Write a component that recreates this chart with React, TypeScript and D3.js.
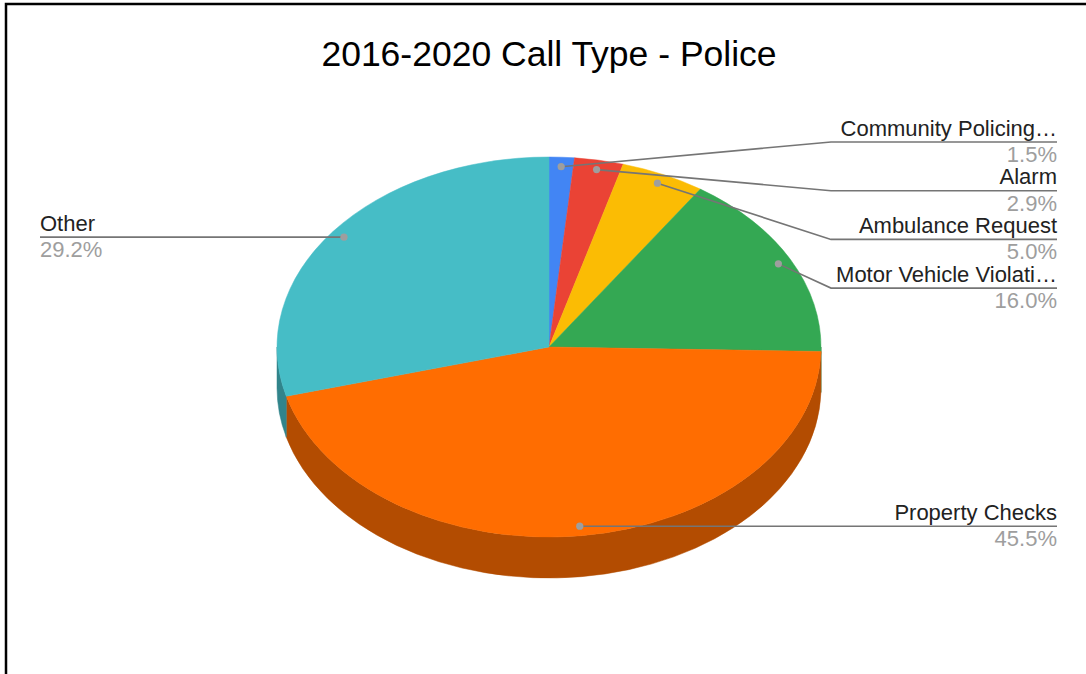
import React from "react";
import * as d3 from "d3";

const categories = [
  "Community Policing…",
  "Alarm",
  "Ambulance Request",
  "Motor Vehicle Violati…",
  "Property Checks",
  "Other",
];
const values = [1.5, 2.9, 5.0, 16.0, 45.5, 29.2];
const percentLabels = ["1.5%", "2.9%", "5.0%", "16.0%", "45.5%", "29.2%"];
const colors = ["#4285F4", "#EA4335", "#FBBC04", "#34A853", "#FF6D01", "#46BDC6"];
const title = "2016-2020 Call Type - Police";

const W = 1086;
const H = 674;
const cx = 549;
const cy = 347;
const rx = 272;
const ry = 190;
const depth = 41;
const FONT = "'Liberation Sans', Arial, sans-serif";

function pt(a: number, r = 1, dy = 0): [number, number] {
  return [cx + rx * r * Math.sin(a), cy - ry * r * Math.cos(a) + dy];
}

function darker(c: string) {
  const col = d3.rgb(c);
  return d3.rgb(col.r * 0.7, col.g * 0.7, col.b * 0.7).formatHex();
}

export default function App() {
  const pie = d3
    .pie<number>()
    .sort(null)
    .startAngle(0)
    .endAngle(2 * Math.PI)
    .padAngle(0);
  const arcs = pie(values);

  const sides: JSX.Element[] = [];
  arcs.forEach((a, i) => {
    const s0 = Math.max(a.startAngle, Math.PI / 2);
    const s1 = Math.min(a.endAngle, (3 * Math.PI) / 2);
    if (s1 <= s0) return;
    const large = s1 - s0 > Math.PI ? 1 : 0;
    const p0 = pt(s0);
    const p1 = pt(s1);
    const q1 = pt(s1, 1, depth);
    const q0 = pt(s0, 1, depth);
    const d = `M${p0[0]},${p0[1]} A${rx},${ry} 0 ${large} 1 ${p1[0]},${p1[1]} L${q1[0]},${q1[1]} A${rx},${ry} 0 ${large} 0 ${q0[0]},${q0[1]} Z`;
    sides.push(<path key={"s" + i} d={d} fill={darker(colors[i])} stroke={darker(colors[i])} strokeWidth={0.5} />);
  });

  const tops = arcs.map((a, i) => {
    const large = a.endAngle - a.startAngle > Math.PI ? 1 : 0;
    const p0 = pt(a.startAngle);
    const p1 = pt(a.endAngle);
    const d = `M${cx},${cy} L${p0[0]},${p0[1]} A${rx},${ry} 0 ${large} 1 ${p1[0]},${p1[1]} Z`;
    return <path key={"t" + i} d={d} fill={colors[i]} stroke={colors[i]} strokeWidth={0.5} />;
  });

  // labels
  const rightX = 1057;
  const leftX = 40;
  const kinkX = 831;
  const labels = arcs.map((a, i) => {
    const mid = (a.startAngle + a.endAngle) / 2;
    const dot = pt(mid, 0.95);
    const isRight = mid < Math.PI;
    let lineY = dot[1];
    if (i < 4) lineY = 142 + i * 48.7;
    const pathD = isRight
      ? i < 4
        ? `M${dot[0]},${dot[1]} L${kinkX},${lineY} L${rightX},${lineY}`
        : `M${dot[0]},${dot[1]} L${rightX},${lineY}`
      : `M${dot[0]},${dot[1]} L${leftX},${lineY}`;
    const tx = isRight ? rightX : leftX;
    const anchor = isRight ? "end" : "start";
    return (
      <g key={"l" + i}>
        <path d={pathD} fill="none" stroke="#757575" strokeWidth={1.6} />
        <circle cx={dot[0]} cy={dot[1]} r={3.6} fill="#9e9e9e" />
        <text x={tx} y={lineY - 6.5} textAnchor={anchor} fontFamily={FONT} fontSize={22} fill="#222222">
          {categories[i]}
        </text>
        <text x={tx} y={lineY + 20} textAnchor={anchor} fontFamily={FONT} fontSize={22} fill="#9e9e9e">
          {percentLabels[i]}
        </text>
      </g>
    );
  });

  return (
    <svg
      width={W}
      height={H}
      style={{ position: "absolute", left: 0, top: 0, background: "#fff" }}
    >
      <rect x={0} y={0} width={W} height={H} fill="#fff" />
      <path d={`M6,${H} L6,4 L${W},4`} fill="none" stroke="#000" strokeWidth={2.5} />
      <text x={549} y={66} textAnchor="middle" fontFamily={FONT} fontSize={35.5} fill="#000">
        {title}
      </text>
      {sides}
      {tops}
      {labels}
    </svg>
  );
}
